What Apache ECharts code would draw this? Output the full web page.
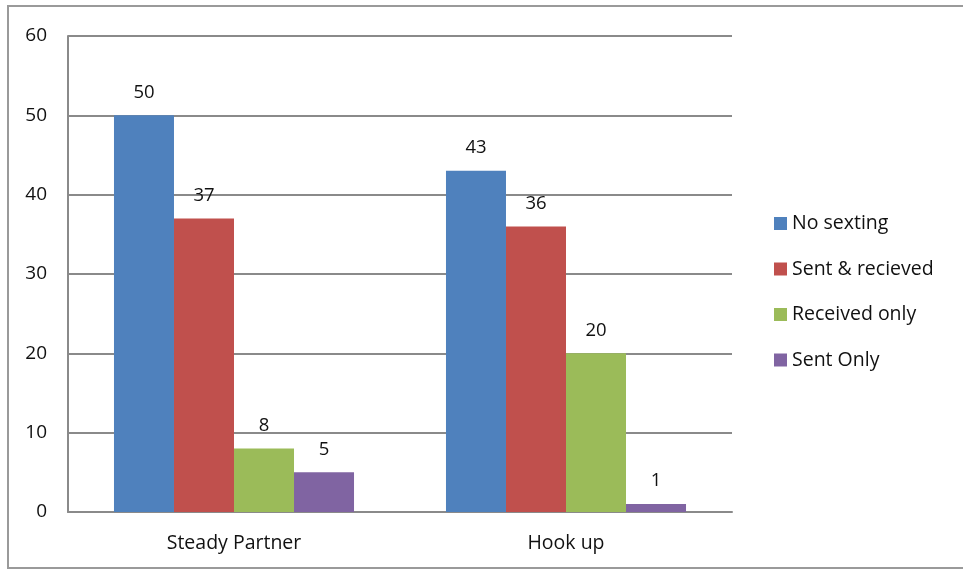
<!DOCTYPE html>
<html><head><meta charset="utf-8">
<script src="https://cdn.jsdelivr.net/npm/echarts@6/dist/echarts.min.js"></script>
<style>html,body{margin:0;padding:0;background:#fff}#c{width:963px;height:570px}</style>
</head><body><div id="c"></div>
<script>
var categories = ['Steady Partner', 'Hook up'];
var seriesNames = ['No sexting', 'Sent & recieved', 'Received only', 'Sent Only'];
var noSexting = [50, 43];
var sentReceived = [37, 36];
var receivedOnly = [8, 20];
var sentOnly = [5, 1];
var colors = ['#4F81BD', '#C0504D', '#9BBB59', '#8064A2'];
var yTicks = [0, 10, 20, 30, 40, 50, 60];

var values = [noSexting, sentReceived, receivedOnly, sentOnly];
var font = '"Open Sans", sans-serif';
var chart = echarts.init(document.getElementById('c'));
chart.setOption({
  animation: false,
  graphic: [{type: 'rect', shape: {x: 8, y: 6, width: 1000, height: 562}, style: {fill: 'none', stroke: '#9a9a9a', lineWidth: 2}, z: -1}],
  grid: {left: 68, right: 231, top: 36, bottom: 58},
  legend: {
    orient: 'vertical', left: 774, top: 213.5, padding: 0, itemWidth: 13, itemHeight: 13, itemGap: 25.5,
    icon: 'rect',
    textStyle: {fontFamily: font, fontSize: 19.5, lineHeight: 20, color: '#111'},
    data: seriesNames
  },
  xAxis: {
    type: 'category', data: categories,
    axisLine: {lineStyle: {color: '#8a8a8a', width: 2}},
    axisTick: {show: false},
    axisLabel: {fontFamily: font, fontSize: 19.5, color: '#111', margin: 21}
  },
  yAxis: {
    type: 'value', min: 0, max: 60, interval: 10,
    axisLine: {show: true, lineStyle: {color: '#8a8a8a', width: 2}},
    axisTick: {show: false},
    splitLine: {lineStyle: {color: '#8a8a8a', width: 2}},
    axisLabel: {fontFamily: font, fontSize: 19, color: '#111', margin: 21,
      formatter: function (v) { return yTicks.indexOf(v) >= 0 ? String(v) : ''; }}
  },
  series: seriesNames.map(function (n, i) {
    return {
      name: n, type: 'bar', data: values[i], barGap: '0%', barCategoryGap: '27.7%',
      itemStyle: {color: colors[i]},
      label: {show: true, position: 'top', distance: 13.5, fontFamily: font, fontSize: 18.5, color: '#111'}
    };
  })
});
</script></body></html>
